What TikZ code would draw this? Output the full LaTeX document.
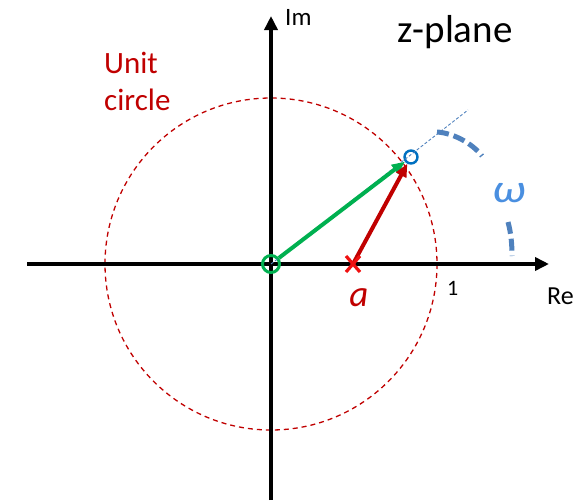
\documentclass[tikz,border=0pt]{standalone}
\usepackage{fontspec}
\usepackage{graphicx}
\setmainfont{Carlito}
\usetikzlibrary{arrows.meta,calc}
\definecolor{cgreen}{HTML}{00B050}
\definecolor{dred}{HTML}{C00000}
\definecolor{bred}{HTML}{F01010}
\definecolor{pblue}{HTML}{0070C0}
\definecolor{sblue}{HTML}{4F81BD}
\definecolor{wblue}{HTML}{4A8FE0}
\tikzset{
  axisline/.style={line width=4.5pt, -{Triangle[length=14pt,width=13pt]}},
  unitc/.style={dred, line width=1.3pt, dash pattern=on 5pt off 4pt},
  vecg/.style={cgreen, line width=4pt, -{Triangle[length=13pt,width=11pt]}},
  vecr/.style={dred, line width=4pt, -{Triangle[length=13pt,width=11pt]}},
  thindash/.style={sblue, line width=0.9pt, dash pattern=on 3pt off 2pt},
  arcdash/.style={sblue, line width=5pt, dash pattern=on 12pt off 5pt},
  lbl/.style={inner sep=0pt, anchor=base west},
}
\begin{document}
\begin{tikzpicture}[x=1pt,y=-1pt]
\useasboundingbox (0,0) rectangle (583,501);
% coordinates
\coordinate (XL) at (27,264);
\coordinate (XR) at (549,264);
\coordinate (YB) at (271,500);
\coordinate (YT) at (271,16);
\coordinate (C) at (271,264);
\coordinate (A) at (353,264);
\coordinate (L) at (468,110);
% unit circle
\draw[unitc] (C) circle (166);
% axes
\draw[axisline] (XL) -- (XR);
\draw[axisline] (YB) -- (YT);
% nodes
\node[circle, draw=pblue, line width=2.4pt, minimum size=13pt, inner sep=0pt] (P) at (411,157) {};
\node[circle, draw=cgreen, line width=3pt, minimum size=17pt, inner sep=0pt] (O) at (C) {};
% thin dashed line
\draw[thindash] (C) -- (L);
% vectors
\draw[vecg] (O) -- (P);
\draw[vecr] (A) -- (P);
% red cross
\draw[bred, line width=3.2pt] ($(A)+(-7,-8)$) -- ($(A)+(7,8)$);
\draw[bred, line width=3.2pt] ($(A)+(-7,8)$) -- ($(A)+(7,-8)$);
% omega arc
\draw[arcdash] (437,132) .. controls (453,133) and (472,143) .. (482,156);
\draw[arcdash] (508,222) .. controls (511,233) and (512,244) .. (512,256);
% labels
\node[lbl, font=\fontsize{25}{30}\selectfont] (im) at (285,25) {Im};
\node[lbl, font=\fontsize{26}{30}\selectfont] (re) at (547,304) {Re};
\node[lbl, font=\fontsize{39}{44}\selectfont] (zp) at (397,42) {z-plane};
\node[lbl, font=\fontsize{22}{24}\selectfont] (one) at (447,295) {1};
\node[lbl, font=\fontsize{31}{36}\selectfont, text=dred] (u1) at (104,73) {Unit};
\node[lbl, font=\fontsize{31}{36}\selectfont, text=dred] (u2) at (104,110) {circle};
\node[font=\fontsize{37}{40}\selectfont\itshape, text=dred, inner sep=0pt] (a) at (359,298) {a};
\node[font=\fontsize{40}{44}\selectfont\itshape, text=wblue, inner sep=0pt] (w) at (509,193) {\scalebox{1.2}[1]{ω}};
\end{tikzpicture}
\end{document}
